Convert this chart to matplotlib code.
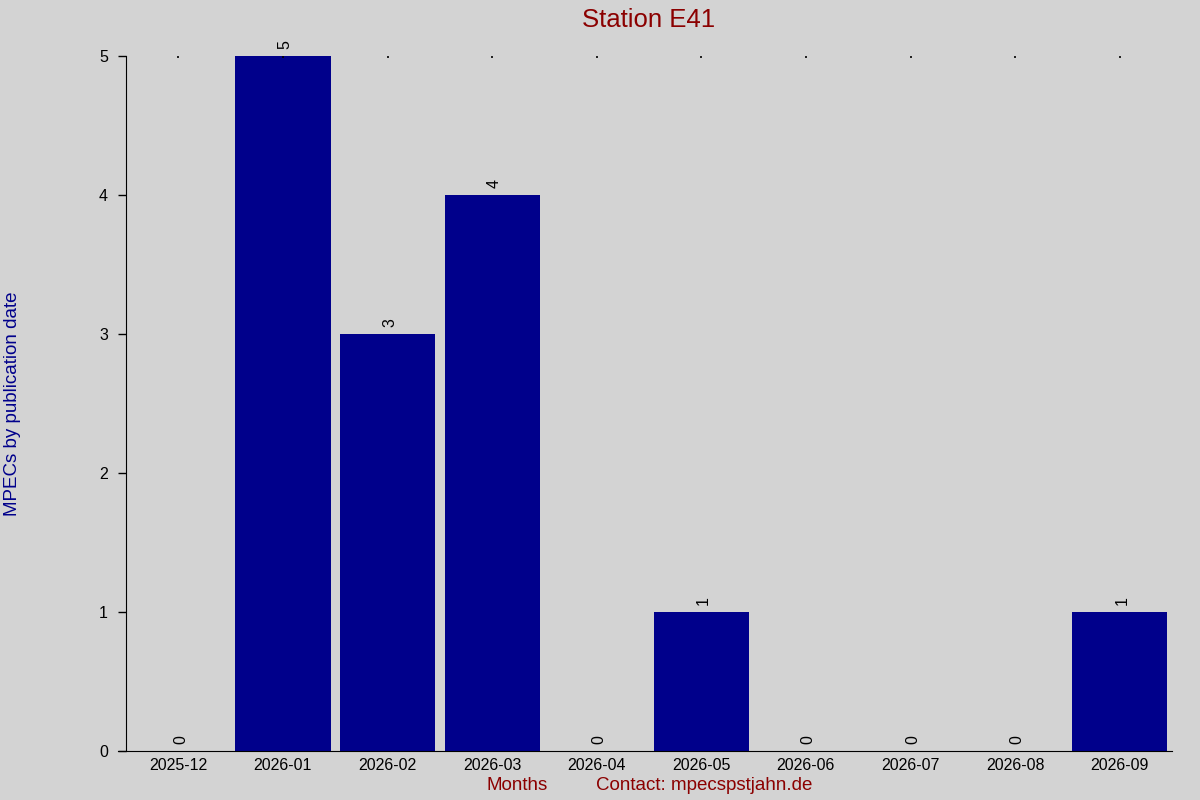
import matplotlib
matplotlib.use("Agg")
import matplotlib.pyplot as plt
import numpy as np

plt.rcParams['font.family'] = ['Liberation Sans', 'DejaVu Sans']

months = ['2025-12', '2026-01', '2026-02', '2026-03', '2026-04',
          '2026-05', '2026-06', '2026-07', '2026-08', '2026-09']
counts = [0, 5, 3, 4, 0, 1, 0, 0, 0, 1]

bg = '#d3d3d3'
fig = plt.figure(figsize=(12, 8), dpi=100, facecolor=bg)
ax = fig.add_axes([0.105, 0.06125, 0.8717, 0.86875])
ax.set_facecolor(bg)

x = np.arange(len(months))
ax.bar(x, counts, width=0.91, color='#00008b')
for xi, c in zip(x, counts):
    ax.text(xi + 0.02, c + 0.05, str(c), rotation=90, ha='center', va='bottom', fontsize=11.5)

ax.set_xlim(-0.5, len(months) - 0.5)
ax.set_ylim(0, 5)
ax.set_xticks(x)
ax.set_xticklabels(months, fontsize=11.5)
ax.set_yticks(range(0, 6))
ax.tick_params(axis='y', length=6, width=1, pad=7, labelsize=11.5)
ax.tick_params(axis='x', bottom=False, top=True, direction='in', length=1.2, width=1.2,
               labelbottom=True, labeltop=False, pad=5)
for s in ['top', 'right']:
    ax.spines[s].set_visible(False)
ax.spines['bottom'].set_bounds(-0.575, len(months) - 0.5)

ax.set_title('Station E41', color='#8b0000', fontsize=18.5, pad=21)
fig.text(0.0105, 0.495, 'MPECs by publication date', rotation=90, color='#00008b',
         fontsize=13.5, ha='center', va='center')
fig.text(0.431, 0.018, 'Months', color='#8b0000', fontsize=13.5, ha='center', va='center')
fig.text(0.5865, 0.018, 'Contact: mpecspstjahn.de', color='#8b0000', fontsize=13.5,
         ha='center', va='center')

fig.savefig('out.png', dpi=100, facecolor=bg)
